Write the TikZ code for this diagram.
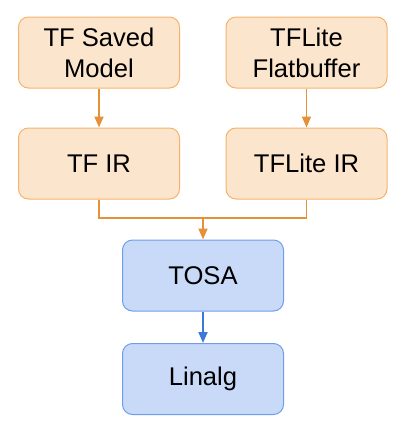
\documentclass[tikz,border=0pt]{standalone}
\usepackage{fontspec}
\setmainfont{Liberation Sans}
\usetikzlibrary{arrows.meta}
\definecolor{ofill}{HTML}{FCE5CD}
\definecolor{oline}{HTML}{F6B26B}
\definecolor{oarrow}{HTML}{E69138}
\definecolor{bfill}{HTML}{C9DAF8}
\definecolor{bline}{HTML}{6D9EEB}
\definecolor{barrow}{HTML}{3C78D8}
\tikzset{
  box/.style={rounded corners=10pt, minimum width=161pt, minimum height=71pt, line width=1pt,
    align=center, font=\fontsize{25.6pt}{30.7pt}\selectfont, inner sep=0pt},
  obox/.style={box, draw=oline, fill=ofill},
  bbox/.style={box, draw=bline, fill=bfill},
  oconn/.style={draw=oarrow, line width=1.8pt},
  bconn/.style={draw=barrow, line width=1.8pt},
  tip/.style={-{Triangle[length=11pt,width=9pt]}}
}
\begin{document}
\begin{tikzpicture}[x=1pt,y=-1pt]
\useasboundingbox (0,0) rectangle (406,432);
\node[obox] (tfsm) at (99,52.5) {TF Saved\\Model};
\node[obox] (tflfb) at (306.5,52.5) {TFLite\\Flatbuffer};
\node[obox] (tfir) at (99,163.5) {TF IR};
\node[obox] (tflir) at (306.5,163.5) {TFLite IR};
\node[bbox] (tosa) at (203,275.5) {TOSA};
\node[bbox] (linalg) at (203,379) {Linalg};
\coordinate (m) at (203,218);
\draw[oconn,tip] (tfsm) -- (tfir);
\draw[oconn,tip] (tflfb) -- (tflir);
\draw[oconn] (tfir.south) |- (m) -| (tflir.south);
\draw[oconn,tip] (m) -- (tosa.north);
\draw[bconn,tip] (tosa) -- (linalg);
\end{tikzpicture}
\end{document}
